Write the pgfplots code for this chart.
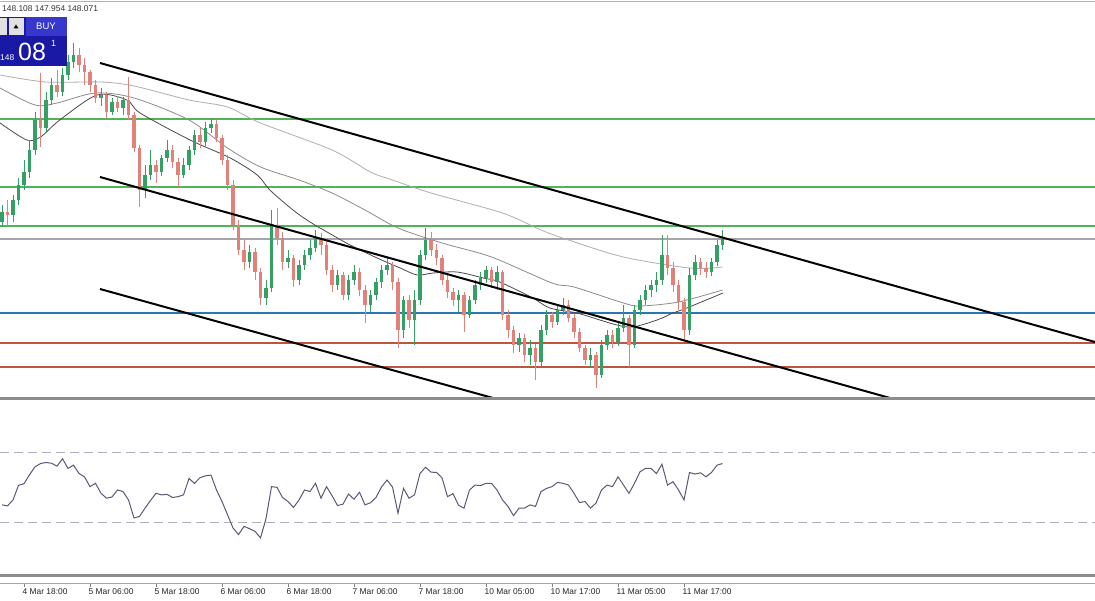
\documentclass[border=0pt]{standalone}
\usepackage{fontspec}
\setmainfont{Liberation Sans}
\usepackage{pgfplots}
\usepackage{pgfplotstable}
\pgfplotsset{compat=1.18}
\definecolor{upcol}{RGB}{52,160,100}
\definecolor{dncol}{RGB}{226,128,122}
\definecolor{hgreen}{RGB}{80,180,90}
\definecolor{hgray}{RGB}{165,165,165}
\definecolor{hblue}{RGB}{40,120,180}
\definecolor{hred}{RGB}{190,85,65}
\definecolor{maA}{RGB}{175,175,175}
\definecolor{maB}{RGB}{140,140,140}
\definecolor{maC}{RGB}{80,72,72}
\definecolor{rsicol}{RGB}{90,90,120}
\definecolor{rsidash}{RGB}{175,175,195}
\definecolor{buyblue}{RGB}{25,25,165}
\definecolor{buybtn}{RGB}{55,55,205}
\definecolor{lightbtn}{RGB}{225,225,225}

% candles: b = bar index (0 = 4 Mar 18:00), values in chart rows (larger = lower price)
\pgfplotstableread{
b o h l c
-4 222 205 227 212
-2 215 195 222 200
-1 200 178 205 185
0 185 160 190 172
1 172 140 178 150
2 150 112 155 120
4 128 92 133 100
5 100 78 105 85
7 92 68 96 75
8 75 55 80 62
9 62 43 68 55
14 98 88 106 95
16 112 98 115 102
18 108 97 115 100
22 190 165 198 175
23 175 150 180 165
25 172 155 176 158
26 158 140 162 150
29 175 158 178 165
30 165 146 170 150
31 150 130 155 135
33 142 122 146 128
34 128 119 133 124
41 262 245 268 252
44 298 280 305 288
45 288 210 292 225
48 262 250 268 258
50 280 260 285 265
51 265 250 270 255
52 255 240 260 248
53 248 230 252 238
57 285 270 290 275
59 295 275 300 280
60 280 265 285 272
63 305 290 312 295
64 295 278 300 282
65 282 265 288 270
66 270 258 275 265
69 330 296 338 300
71 320 290 345 300
72 300 250 305 255
73 255 228 260 240
79 300 290 312 295
81 315 296 318 300
82 300 280 304 285
83 285 272 290 278
84 278 266 283 270
86 282 266 290 272
90 345 333 352 338
92 355 340 365 348
94 362 325 366 330
95 330 310 335 315
97 322 305 325 310
98 310 298 315 305
103 360 348 368 355
105 375 340 378 345
106 345 330 350 335
108 342 322 346 328
109 328 305 332 318
111 345 305 348 310
112 310 295 315 300
113 300 285 305 290
114 290 280 297 285
115 285 272 292 280
116 280 235 285 255
121 330 268 335 275
122 275 255 280 262
125 272 258 276 262
126 262 240 266 245
127 245 230 250 239
}\uptab

\pgfplotstableread{
b o h l c
-3 212 200 226 215
3 120 73 147 128
6 85 70 97 92
10 55 48 72 65
11 65 58 85 72
12 72 70 92 85
13 85 80 103 98
15 95 92 118 112
17 102 96 112 108
19 100 77 120 115
20 115 112 152 148
21 148 145 207 190
24 165 160 183 172
27 150 145 168 162
28 162 158 187 175
32 135 128 148 142
35 124 120 142 138
36 138 135 165 160
37 160 155 190 185
38 185 180 230 225
39 225 220 255 250
40 250 240 270 262
42 252 248 280 272
43 272 268 305 298
46 225 208 245 238
47 238 232 270 262
49 258 255 287 280
54 238 233 255 245
55 245 242 275 270
56 270 265 292 285
58 275 272 300 295
61 272 268 296 290
62 290 285 323 305
67 265 262 290 282
68 282 278 348 330
70 300 295 328 320
74 240 232 256 250
75 250 244 265 258
76 258 255 285 280
77 280 275 298 292
78 292 288 306 300
80 295 292 332 315
85 270 267 288 282
87 272 270 320 315
88 315 310 338 330
89 330 326 353 345
91 338 334 362 355
93 348 344 380 362
96 315 312 328 322
99 305 300 322 318
100 318 314 338 332
101 332 328 352 348
102 348 345 365 360
104 355 352 388 375
107 335 330 348 342
110 318 315 367 345
117 255 235 275 268
118 268 262 292 285
119 285 280 310 302
120 302 298 340 330
123 262 258 275 268
124 268 262 278 272
}\dntab

\pgfplotstableread{
b r
-4 39.8
-3 39.2
-2 42.6
-1 50.9
0 51.9
1 57.0
2 61.5
3 63.4
4 64.0
5 63.6
6 61.9
7 66.2
8 60.6
9 62.5
10 57.7
11 55.8
12 50.2
13 52.1
14 46.4
15 43.6
16 44.3
17 48.3
18 47.4
19 42.6
20 32.3
21 33.2
22 37.9
23 42.3
24 46.4
25 45.5
26 45.8
27 44.0
28 44.5
29 45.5
30 54.9
31 52.1
32 55.3
33 56.4
34 56.8
35 48.3
36 41.7
37 34.2
38 26.6
39 22.8
40 27.5
41 26.2
42 24.7
43 20.9
44 31.9
45 50.2
46 49.8
47 44.0
48 41.7
49 38.3
50 42.6
51 48.3
52 47.4
53 52.1
54 43.6
55 50.2
56 45.1
57 39.4
58 40.2
59 46.0
60 43.0
61 47.0
62 39.8
63 41.0
64 44.0
65 50.0
66 54.0
67 50.0
68 35.0
69 49.2
70 43.6
71 45.5
72 57.7
73 61.3
74 58.5
75 58.3
76 55.3
77 44.5
78 46.2
79 39.6
80 37.9
81 48.3
82 51.1
83 50.8
84 52.1
85 52.1
86 48.3
87 42.6
88 38.9
89 33.6
90 37.9
91 37.9
92 39.8
93 38.9
94 47.4
95 49.2
96 50.2
97 52.6
98 52.1
99 51.1
100 46.4
101 41.1
102 41.7
103 37.9
104 40.8
105 48.3
106 51.1
107 50.2
108 55.8
109 51.1
110 46.4
111 52.1
112 58.7
113 60.6
114 60.6
115 57.7
116 63.0
117 51.1
118 53.0
119 48.3
120 42.6
121 58.3
122 57.4
123 58.1
124 55.8
125 58.3
126 62.5
127 63.4
}\rsitab

\pgfplotsset{panel/.style={scale only axis, width=1095pt, xmin=-4.3636, xmax=194.7273, anchor=south west},
  candle/.style={only marks, mark size=0pt, mark options={draw=none, fill=none}}}

\begin{document}
\begin{tikzpicture}
\fill[white] (0,0) rectangle (1095pt,600pt);
\useasboundingbox (0,0) rectangle (1095pt,600pt);

% ---------------- price panel ----------------
\begin{axis}[panel, at={(0pt,200pt)}, height=400pt, ymin=0, ymax=400, y dir=reverse, hide axis]
% horizontal levels
\addplot[hgreen, line width=1.1pt] coordinates {(-5,119) (196,119)};
\addplot[hgreen, line width=1.1pt] coordinates {(-5,187) (196,187)};
\addplot[hgreen, line width=1.1pt] coordinates {(-5,226) (196,226)};
\addplot[hgray, line width=1.1pt] coordinates {(-5,239) (196,239)};
\addplot[hblue, line width=1.3pt] coordinates {(-5,313) (196,313)};
\addplot[hred, line width=1.3pt] coordinates {(-5,343) (196,343)};
\addplot[hred, line width=1.3pt] coordinates {(-5,367) (196,367)};
% moving averages
\addplot[maA, line width=0.8pt, smooth, tension=0.5] coordinates {(-4.36,75) (4,82) (14,82) (20,86) (30,100) (37,107) (43,123) (56,150) (63,172) (67,180) (74,193) (87,213) (94,230) (99,240) (109,257) (121,268) (127,267)};
\addplot[maB, line width=0.8pt, smooth, tension=0.5] coordinates {(-4.36,88) (2,105) (6,103) (13,93) (20,98) (30,120) (37,148) (43,167) (50,180) (56,193) (62,210) (68,228) (76,243) (85,257) (96,283) (100,287) (109,303) (112,306) (119,302) (127,290)};
\addplot[maC, line width=0.8pt, smooth, tension=0.5] coordinates {(-4.36,123) (0.5,140) (3,137) (6.5,120) (13.3,95) (18.7,100) (21.1,113) (30.2,140) (37.5,158) (42.4,175) (44.7,190) (48.9,210) (52,222) (55.1,232) (59.3,245) (64.2,258) (68.4,268) (71.5,275) (74.4,273) (78.7,272) (83.5,278) (86.5,282) (92.5,298) (95.6,308) (100.5,313) (104.7,320) (107.8,325) (110.7,327) (115.1,320) (118,313) (120.5,308) (127.1,293)};
% candle wicks
\addplot[candle, error bars/.cd, y dir=plus, y explicit, error mark=none, error bar style={upcol, line width=1pt}]
  table[x=b, y=h, y error plus expr=\thisrow{l}-\thisrow{h}] {\uptab};
\addplot[candle, error bars/.cd, y dir=plus, y explicit, error mark=none, error bar style={dncol, line width=1pt}]
  table[x=b, y=h, y error plus expr=\thisrow{l}-\thisrow{h}] {\dntab};
% candle bodies
\addplot[candle, error bars/.cd, y dir=plus, y explicit, error mark=none, error bar style={upcol, line width=3.2pt}]
  table[x=b, y=c, y error plus expr=\thisrow{o}-\thisrow{c}] {\uptab};
\addplot[candle, error bars/.cd, y dir=plus, y explicit, error mark=none, error bar style={dncol, line width=3.2pt}]
  table[x=b, y=o, y error plus expr=\thisrow{c}-\thisrow{o}] {\dntab};
% channel
\addplot[black, line width=2pt] coordinates {(13.82,63) (194.73,342)};
\addplot[black, line width=2pt] coordinates {(13.82,177) (157.45,398)};
\addplot[black, line width=2pt] coordinates {(13.82,289) (85.27,398)};
\end{axis}

% ---------------- RSI panel ----------------
\begin{axis}[panel, at={(0pt,25.5pt)}, height=175pt, ymin=0, ymax=100, hide axis]
\addplot[rsidash, line width=0.8pt, dash pattern=on 9pt off 5pt] coordinates {(-4.36,70) (194.73,70)};
\addplot[rsidash, line width=0.8pt, dash pattern=on 9pt off 5pt] coordinates {(-4.36,30) (194.73,30)};
\addplot[rsicol, line width=1pt] table[x=b, y=r] {\rsitab};
\end{axis}

% ---------------- time axis ----------------
\begin{axis}[panel, at={(0pt,17pt)}, height=5pt, ymin=0, ymax=1,
  axis x line*=bottom, axis y line=none,
  x axis line style={-, draw=black!35, line width=0.8pt},
  xtick={0,12,...,120},
  xticklabels={4 Mar 18:00, 5 Mar 06:00, 5 Mar 18:00, 6 Mar 06:00, 6 Mar 18:00, 7 Mar 06:00, 7 Mar 18:00, 10 Mar 05:00, 10 Mar 17:00, 11 Mar 05:00, 11 Mar 17:00},
  tick align=outside, major tick length=4pt,
  xtick style={draw=black!50, line width=0.6pt},
  xticklabel style={anchor=north west, inner sep=0pt, xshift=-1.5pt, yshift=-1pt, font=\fontsize{8.4}{10}\selectfont, text=black!85}]
\addplot[draw=none] coordinates {(0,0.5)};
\end{axis}

% ---------------- frame and overlays ----------------
\begin{scope}[x=1pt, y=-1pt, shift={(0pt,600pt)}]
\draw[black!30, line width=0.8pt] (0,1) -- (1095,1);
\draw[black!45, line width=2.5pt] (0,398.5) -- (1095,398.5);
\draw[black!45, line width=3pt] (0,575.5) -- (1095,575.5);
\node[anchor=west, inner sep=0pt, font=\fontsize{8.4}{10}\selectfont, text=black!80] at (2,8.5) {148.108 147.954 148.071};
% trade panel
\fill[buyblue] (0,17) rectangle (67,66);
\fill[lightbtn] (0,18) rectangle (7,35);
\fill[lightbtn] (9,18) rectangle (24,35);
\fill[black] (13.5,28.5) -- (18.5,28.5) -- (16,24.5) -- cycle;
\fill[buybtn] (26,17) rectangle (67,36);
\node[text=white, inner sep=0pt, font=\fontsize{9.5}{11}\selectfont] at (46,26.5) {BUY};
\node[anchor=south west, text=white, inner sep=0pt, font=\fontsize{8.4}{10}\selectfont] at (0,61) {148};
\node[anchor=south west, text=white, inner sep=0pt, font=\fontsize{25}{28}\selectfont] at (18,61) {08};
\node[anchor=north west, text=white, inner sep=0pt, font=\fontsize{9}{10}\selectfont] at (51,40) {1};
\end{scope}
\end{tikzpicture}
\end{document}
